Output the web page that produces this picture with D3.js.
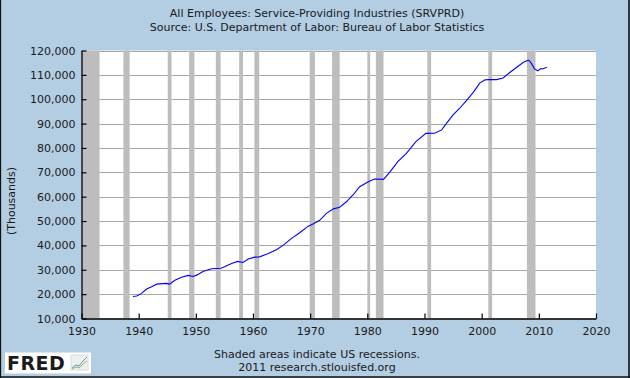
<!DOCTYPE html>
<html>
<head>
<meta charset="utf-8">
<script src="https://cdn.jsdelivr.net/npm/d3@7"></script>
<style>
  html, body { margin: 0; padding: 0; background: #B3CDE3; }
  svg { display: block; }
  text { font-family: "DejaVu Sans", Verdana, sans-serif; fill: #1a1a1a; }
</style>
</head>
<body>
<svg id="chart" width="630" height="378"></svg>
<script>
// ---- Data ----
const titleLines = [
  "All Employees: Service-Providing Industries (SRVPRD)",
  "Source: U.S. Department of Labor: Bureau of Labor Statistics"
];
const yAxisTitle = "(Thousands)";
const footerLines = ["Shaded areas indicate US recessions.", "2011 research.stlouisfed.org"];

const xTickYears = [1930, 1940, 1950, 1960, 1970, 1980, 1990, 2000, 2010, 2020];
const yTickValues = [10000, 20000, 30000, 40000, 50000, 60000, 70000, 80000, 90000, 100000, 110000, 120000];

const recessionStarts = ["1929-08", "1937-05", "1945-02", "1948-11", "1953-07", "1957-08", "1960-04",
  "1969-12", "1973-11", "1980-01", "1981-07", "1990-07", "2001-03", "2007-12"];
const recessionEnds = ["1933-03", "1938-06", "1945-10", "1949-10", "1954-05", "1958-04", "1961-02",
  "1970-11", "1975-03", "1980-07", "1982-11", "1991-03", "2001-11", "2009-06"];

const seriesDates = ["1939-01", "1939-09", "1940-07", "1941-05", "1942-04", "1943-03", "1944-11", "1945-06",
  "1946-05", "1947-07", "1948-09", "1949-07", "1950-03", "1951-04", "1952-10", "1954-06", "1955-01",
  "1956-04", "1957-05", "1958-04", "1959-03", "1960-05", "1961-03", "1962-09", "1964-03", "1965-04",
  "1966-10", "1968-03", "1969-09", "1970-07", "1971-09", "1972-11", "1974-02", "1975-03", "1976-05",
  "1977-07", "1978-09", "1980-03", "1981-04", "1982-11", "1984-01", "1985-05", "1986-11", "1988-07",
  "1990-04", "1991-10", "1993-01", "1993-11", "1995-01", "1996-03", "1997-05", "1998-07", "1999-09",
  "2000-08", "2001-06", "2002-08", "2003-10", "2004-12", "2006-02", "2007-04", "2008-01", "2008-04",
  "2008-09", "2009-04", "2009-11", "2010-04", "2010-10", "2011-06"];
const seriesValues = [19000, 19200, 20300, 22000, 23000, 24100, 24400, 24100,
  25700, 26900, 27700, 27250, 27800, 29300, 30400, 30650, 31200,
  32600, 33450, 33000, 34400, 35200, 35300, 36700, 38350, 40000,
  42900, 45200, 47900, 48750, 50300, 53150, 55000, 55700, 57900,
  60700, 64100, 66150, 67250, 67100, 70300, 74400, 77800, 82600,
  86000, 86050, 87400, 90100, 93550, 96300, 99450, 102700, 106600,
  107950, 108100, 108050, 108750, 110950, 113000, 115050, 115900, 116000,
  114800, 112450, 111650, 112450, 112500, 113150];

// ---- Layout ----
const W = 630, H = 378;
const plot = { left: 81.5, right: 596, top: 50.5, bottom: 318.5 };
const parse = d3.timeParse("%Y-%m");
const bg = "#B3CDE3";
const fs = "11px";

const svg = d3.select("#chart");
svg.append("rect").attr("x", 0).attr("y", 0).attr("width", W).attr("height", H).attr("fill", bg);

const x = d3.scaleTime()
  .domain([new Date(1930, 0, 1), new Date(2020, 0, 1)])
  .range([plot.left, plot.right]);
const y = d3.scaleLinear()
  .domain([10000, 120000])
  .range([plot.bottom, plot.top]);

// plot background
svg.append("rect")
  .attr("x", plot.left).attr("y", plot.top)
  .attr("width", plot.right - plot.left).attr("height", plot.bottom - plot.top)
  .attr("fill", "#ffffff");

// gridlines
svg.append("g").selectAll("line")
  .data(yTickValues.filter(v => v > 10000))
  .join("line")
  .attr("x1", plot.left).attr("x2", plot.right)
  .attr("y1", d => Math.round(y(d)) + 0.5).attr("y2", d => Math.round(y(d)) + 0.5)
  .attr("stroke", "#a8a8a8").attr("stroke-width", 1.2);

// recessions
const recessions = recessionStarts.map((s, i) => ({ start: parse(s), end: parse(recessionEnds[i]) }));
const x0 = x.domain()[0];
svg.append("g").selectAll("rect")
  .data(recessions)
  .join("rect")
  .attr("x", d => x(d.start < x0 ? x0 : d.start))
  .attr("y", plot.top)
  .attr("width", d => x(d.end) - x(d.start < x0 ? x0 : d.start))
  .attr("height", plot.bottom - plot.top)
  .attr("fill", "#bdbdbd");

// series line
const series = seriesDates.map((d, i) => ({ date: parse(d), value: seriesValues[i] }));
svg.append("path")
  .datum(series)
  .attr("fill", "none")
  .attr("stroke", "#0000ff")
  .attr("stroke-width", 1.1)
  .attr("d", d3.line().x(d => x(d.date)).y(d => y(d.value)));

// axes
const fmt = d3.format(",");
const yAxis = d3.axisLeft(y).tickValues(yTickValues).tickFormat(fmt).tickSizeInner(-5).tickSizeOuter(0).tickPadding(6);
const yg = svg.append("g").attr("transform", `translate(${plot.left},0)`).call(yAxis);
yg.select(".domain").attr("stroke", "#000").attr("stroke-width", 1.3);
yg.selectAll(".tick line").attr("stroke", "#000").attr("stroke-width", 1.2);
yg.selectAll(".tick text").attr("font-size", fs).attr("font-family", "DejaVu Sans, Verdana, sans-serif").attr("fill", "#1a1a1a");

const xAxis = d3.axisBottom(x).tickValues(xTickYears.map(v => new Date(v, 0, 1)))
  .tickFormat(d3.timeFormat("%Y")).tickSizeInner(-5).tickSizeOuter(0).tickPadding(9);
const xg = svg.append("g").attr("transform", `translate(0,${plot.bottom})`).call(xAxis);
xg.select(".domain").attr("stroke", "#000").attr("stroke-width", 1.3);
xg.selectAll(".tick line").attr("stroke", "#000").attr("stroke-width", 1.2);
xg.selectAll(".tick text").attr("font-size", fs).attr("font-family", "DejaVu Sans, Verdana, sans-serif").attr("fill", "#1a1a1a");

// titles
svg.append("g").selectAll("text")
  .data(titleLines)
  .join("text")
  .attr("x", 317).attr("y", (d, i) => 17 + i * 14)
  .attr("text-anchor", "middle").attr("font-size", fs)
  .text(d => d);

svg.append("text")
  .attr("transform", "translate(15,201) rotate(-90)")
  .attr("text-anchor", "middle").attr("font-size", fs)
  .text(yAxisTitle);

svg.append("g").selectAll("text")
  .data(footerLines)
  .join("text")
  .attr("x", 317).attr("y", (d, i) => 358 + i * 13)
  .attr("text-anchor", "middle").attr("font-size", fs)
  .text(d => d);

// FRED logo
const logo = svg.append("g");
logo.append("rect").attr("x", 5).attr("y", 352.5).attr("width", 86).attr("height", 21).attr("fill", "#ffffff");
logo.append("text").attr("x", 7).attr("y", 369.5)
  .attr("font-family", "Liberation Sans, Arial, sans-serif").attr("font-weight", "bold")
  .attr("font-size", "19px").attr("fill", "#222").attr("letter-spacing", "0.5")
  .text("FRED");
const icon = logo.append("g").attr("transform", "translate(71,355)");
icon.append("rect").attr("width", 17).attr("height", 15).attr("fill", "#eef0f0").attr("stroke", "#d8dcdc");
icon.append("path").attr("d", "M1,13 L5,10 L8,11 L12,6 L16,2").attr("fill", "none").attr("stroke", "#6a8fc7").attr("stroke-width", 1);
icon.append("path").attr("d", "M1,14 L5,12 L8,13 L12,9 L16,6").attr("fill", "none").attr("stroke", "#8bbd5a").attr("stroke-width", 1);

// frame border
svg.append("line").attr("x1", 0.5).attr("x2", 0.5).attr("y1", 0).attr("y2", H).attr("stroke", "#111").attr("stroke-width", 1.3);
svg.append("line").attr("x1", 629).attr("x2", 629).attr("y1", 0).attr("y2", H).attr("stroke", "#111").attr("stroke-width", 1.6);
svg.append("line").attr("x1", 0).attr("x2", W).attr("y1", 377).attr("y2", 377).attr("stroke", "#111").attr("stroke-width", 1.6);
</script>
</body>
</html>
